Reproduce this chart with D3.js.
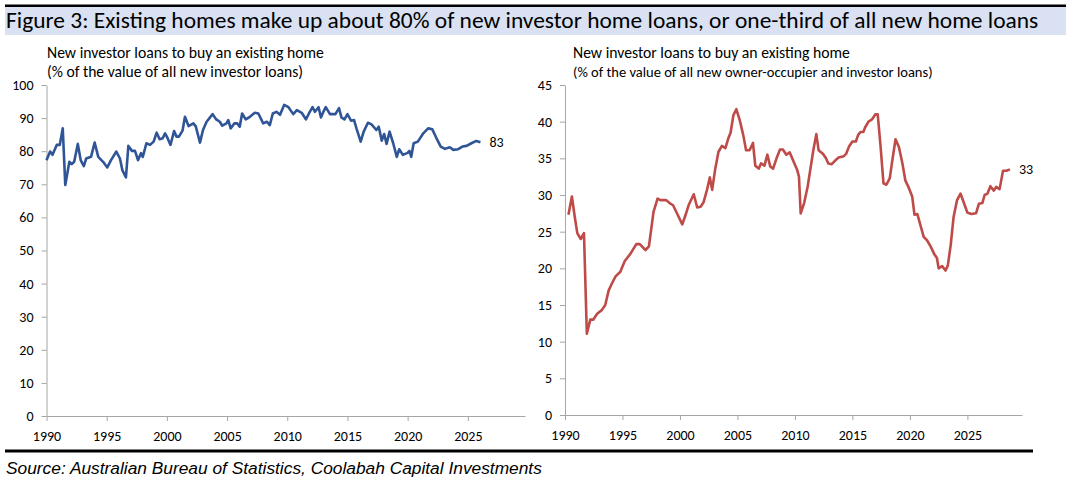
<!DOCTYPE html>
<html><head><meta charset="utf-8">
<script src="https://cdn.jsdelivr.net/npm/d3@7"></script>
<style>body{margin:0;background:#fff}svg{display:block}</style>
</head><body><svg id="c" width="1076" height="483"></svg>
<script>
const titleText = "Figure 3: Existing homes make up about 80% of new investor home loans, or one-third of all new home loans";
const sourceText = "Source: Australian Bureau of Statistics, Coolabah Capital Investments";
const leftSubtitle = ["New investor loans to buy an existing home", "(% of the value of all new investor loans)"];
const rightSubtitle = ["New investor loans to buy an existing home", "(% of the value of all new owner-occupier and investor loans)"];
const xTicks = [1990, 1995, 2000, 2005, 2010, 2015, 2020, 2025];
const leftYTicks = [0, 10, 20, 30, 40, 50, 60, 70, 80, 90, 100];
const rightYTicks = [0, 5, 10, 15, 20, 25, 30, 35, 40, 45];

const leftYears = [1990.0,1990.3,1990.5,1990.85,1991.1,1991.35,1991.56,1991.9,1992.1,1992.3,1992.6,1992.84,1993.1,1993.3,1993.7,1994.0,1994.3,1994.7,1995.05,1995.36,1995.8,1996.1,1996.3,1996.6,1996.8,1997.1,1997.35,1997.6,1997.85,1998.0,1998.3,1998.6,1998.9,1999.15,1999.4,1999.65,1999.85,2000.05,2000.3,2000.6,2000.8,2001.0,2001.3,2001.5,2001.8,2002.2,2002.4,2002.75,2003.0,2003.3,2003.8,2004.1,2004.4,2004.6,2004.95,2005.1,2005.3,2005.6,2005.85,2006.05,2006.25,2006.55,2006.9,2007.3,2007.6,2008.0,2008.3,2008.55,2008.8,2009.1,2009.4,2009.75,2010.1,2010.5,2010.8,2011.2,2011.55,2011.8,2012.1,2012.3,2012.6,2012.8,2013.0,2013.2,2013.55,2014.0,2014.3,2014.5,2014.75,2015.0,2015.3,2015.55,2015.75,2016.1,2016.35,2016.7,2017.0,2017.4,2017.6,2017.85,2018.05,2018.25,2018.5,2018.8,2019.1,2019.3,2019.6,2020.0,2020.15,2020.3,2020.5,2020.85,2021.3,2021.7,2022.05,2022.4,2022.75,2023.1,2023.5,2023.8,2024.2,2024.55,2024.9,2025.3,2025.7,2026.05];
const leftValues = [77.3,79.9,78.9,81.9,81.9,86.9,69.8,76.8,76.1,76.8,82.2,77.3,75.5,77.8,78.3,82.6,78.3,76.8,75.1,77.3,79.9,77.8,74.3,72.1,81.6,80.1,80.1,77.3,79.4,78.3,82.4,81.9,82.9,85.6,83.6,83.9,85.4,84.0,81.9,86.1,84.4,84.4,86.2,90.4,87.6,88.4,87.5,82.6,86.4,88.9,91.2,89.6,88.9,87.7,88.4,89.4,86.9,88.4,88.4,87.4,91.4,89.6,90.4,91.6,91.4,88.4,88.9,87.9,91.4,91.9,91.0,94.0,93.3,91.2,92.4,91.6,89.6,91.4,93.3,91.9,93.3,90.2,91.9,93.3,91.2,91.2,93.0,90.2,89.6,91.2,89.2,89.4,86.9,82.9,85.9,88.6,88.1,86.4,87.4,83.2,85.2,82.2,85.9,82.4,78.3,80.6,78.9,79.5,80.1,78.3,82.4,82.9,85.4,86.9,86.6,83.9,81.4,80.7,81.2,80.4,80.6,81.4,81.6,82.4,83.1,82.7];

const rightYears = [1990.3,1990.6,1990.85,1991.07,1991.37,1991.65,1991.9,1992.2,1992.45,1992.8,1993.2,1993.5,1993.8,1994.1,1994.4,1994.8,1995.2,1995.7,1996.2,1996.5,1997.0,1997.3,1997.7,1998.05,1998.3,1998.8,1999.1,1999.4,1999.8,2000.2,2000.45,2000.75,2001.2,2001.5,2001.8,2002.05,2002.35,2002.6,2002.8,2003.05,2003.35,2003.65,2003.95,2004.2,2004.4,2004.65,2004.9,2005.2,2005.5,2005.75,2006.05,2006.35,2006.55,2006.85,2007.05,2007.35,2007.6,2007.85,2008.1,2008.4,2008.7,2008.95,2009.25,2009.55,2009.9,2010.2,2010.35,2010.5,2010.8,2011.1,2011.6,2011.86,2012.06,2012.45,2012.7,2012.9,2013.2,2013.5,2013.8,2014.25,2014.45,2014.7,2015.0,2015.3,2015.5,2015.7,2015.95,2016.1,2016.4,2016.7,2017.0,2017.2,2017.45,2017.7,2017.95,2018.25,2018.45,2018.75,2019.05,2019.35,2019.6,2019.9,2020.2,2020.4,2020.65,2020.95,2021.2,2021.5,2021.8,2022.1,2022.35,2022.5,2022.8,2023.1,2023.3,2023.55,2023.8,2024.1,2024.4,2024.7,2025.0,2025.35,2025.75,2026.0,2026.3,2026.5,2026.75,2027.0,2027.3,2027.5,2027.8,2028.1,2028.4,2028.7];
const rightValues = [27.3,29.8,27.0,24.8,24.0,24.8,11.1,13.0,13.0,13.8,14.3,15.0,17.0,18.0,18.9,19.5,21.0,22.0,23.3,23.3,22.5,23.0,27.7,29.5,29.3,29.3,28.9,28.6,27.3,26.0,27.1,28.6,30.1,28.3,28.4,29.0,30.7,32.4,30.7,33.4,35.9,36.7,36.4,37.7,38.5,40.9,41.7,40.2,38.2,36.1,36.1,37.1,34.0,33.6,34.3,34.0,35.5,33.9,33.6,35.0,36.2,36.2,35.5,35.8,34.5,33.4,32.5,27.5,28.9,31.1,36.1,38.3,36.1,35.6,35.0,34.3,34.2,34.7,35.1,35.3,35.6,36.6,37.3,37.3,38.2,38.6,38.6,39.2,40.0,40.3,41.0,41.0,36.6,31.6,31.4,32.3,34.5,37.6,36.5,34.3,32.0,31.0,29.8,27.3,27.4,25.7,24.3,23.8,23.0,22.0,21.4,20.0,20.3,19.7,20.4,23.2,27.0,29.3,30.2,28.9,27.6,27.4,27.5,28.8,28.9,30.0,30.2,31.2,30.6,31.1,30.8,33.3,33.3,33.5];

const leftEndLabel = "83";
const rightEndLabel = "33";

const svg = d3.select("#c");
const FONT = "Carlito, Calibri, Lato, 'Open Sans', sans-serif";

function fitWidth(sel, target) {
  const w = sel.node().getComputedTextLength();
  const fs = parseFloat(sel.attr("font-size"));
  sel.attr("font-size", (fs * target / w).toFixed(2));
}

// Header
svg.append("rect").attr("x", 5).attr("y", 4.5).attr("width", 1061).attr("height", 2.5).attr("fill", "#000");
svg.append("rect").attr("x", 5).attr("y", 7).attr("width", 1061).attr("height", 28).attr("fill", "#D9E1F2");
const t = svg.append("text").attr("x", 6).attr("y", 28).attr("font-family", FONT).attr("font-size", 20).attr("fill", "#000").text(titleText);
fitWidth(t, 1033);

// Footer
svg.append("rect").attr("x", 5).attr("y", 449.5).attr("width", 1028).attr("height", 3).attr("fill", "#000");
const s = svg.append("text").attr("x", 6).attr("y", 474).attr("font-family", "'Liberation Sans', Arial, sans-serif")
  .attr("font-style", "italic").attr("font-size", 16).attr("fill", "#000").text(sourceText);
fitWidth(s, 536);

function panel(cfg) {
  const x = d3.scaleLinear().domain([1990, 2029.75]).range([cfg.x0, cfg.x1]);
  const y = d3.scaleLinear().domain([0, cfg.yMax]).range([cfg.yBottom, cfg.yTop]);
  const g = svg.append("g");

  cfg.subtitle.forEach((line, i) => {
    const tt = g.append("text").attr("x", cfg.subX).attr("y", 58 + i * 19)
      .attr("font-family", FONT).attr("font-size", 14).attr("fill", "#000").text(line);
    fitWidth(tt, cfg.subW[i]);
  });

  const yAxis = g.append("g").attr("transform", `translate(${cfg.x0},0)`)
    .call(d3.axisLeft(y).tickValues(cfg.yTicks).tickSize(5).tickSizeOuter(0).tickPadding(8).tickFormat(d3.format("d")));
  const xAxis = g.append("g").attr("transform", `translate(0,${cfg.yBottom})`)
    .call(d3.axisBottom(x).tickValues(cfg.xTicks).tickSize(5).tickSizeOuter(0).tickPadding(10).tickFormat(d3.format("d")));
  [yAxis, xAxis].forEach(a => {
    a.select(".domain").attr("stroke", "#A6A6A6").attr("stroke-width", 1);
    a.selectAll(".tick line").attr("stroke", "#A6A6A6");
    a.selectAll(".tick text").attr("font-family", FONT).attr("font-size", 14).attr("fill", "#000");
  });

  const pts = cfg.years.map((yr, i) => [yr, cfg.values[i]]);
  g.append("path").datum(pts)
    .attr("fill", "none").attr("stroke", cfg.color).attr("stroke-width", 2.6).attr("stroke-linejoin", "round")
    .attr("d", d3.line().x(d => x(d[0])).y(d => y(d[1])));

  const last = pts[pts.length - 1];
  g.append("text").attr("x", x(last[0]) + 9).attr("y", y(last[1])).attr("dy", "0.35em")
    .attr("font-family", FONT).attr("font-size", 14).attr("fill", "#000").text(cfg.endLabel);
}

panel({x0: 46.5, x1: 525, yTop: 85, yBottom: 416, yMax: 100, yTicks: leftYTicks, xTicks: xTicks,
  subtitle: leftSubtitle, subX: 47, subW: [277, 256], years: leftYears, values: leftValues,
  color: "#2F5597", endLabel: leftEndLabel});
panel({x0: 565, x1: 1022, yTop: 85, yBottom: 415, yMax: 45, yTicks: rightYTicks, xTicks: xTicks,
  subtitle: rightSubtitle, subX: 573, subW: [277, 360], years: rightYears, values: rightValues,
  color: "#BE4B48", endLabel: rightEndLabel});
</script></body></html>
